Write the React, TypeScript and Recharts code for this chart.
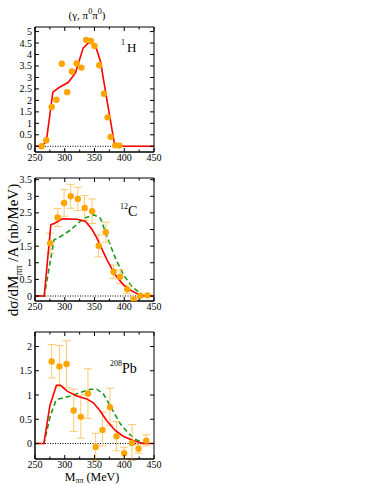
import {
  ComposedChart,
  Line,
  Scatter,
  ErrorBar,
  XAxis,
  YAxis,
  ReferenceLine,
  ReferenceArea,
} from "recharts";

const FONT = "'Liberation Serif', 'DejaVu Serif', serif";

// 1H panel
const hMass = [261, 269, 278, 286, 295, 304, 312, 320, 328, 336, 344, 350, 358, 366, 372, 377, 385, 392];
const hValue = [0, 0.26, 1.71, 2.03, 3.6, 2.36, 3.26, 3.61, 3.43, 4.64, 4.59, 4.37, 3.53, 2.29, 1.26, 0.41, 0.04, 0.03];
const hCurveMass = [250, 261, 269, 280, 290, 298, 306, 318, 331, 340, 351, 360, 371, 384, 400, 450];
const hCurveValue = [0, 0, 0.2, 2.36, 2.55, 2.67, 2.79, 3.2, 4.29, 4.51, 4.43, 3.71, 2.0, 0.04, 0, 0];

// 12C panel
const cMass = [275.5, 288, 299, 310, 322, 333.5, 346, 357, 369, 382, 393, 405, 416, 427, 439];
const cValue = [1.59, 2.36, 2.8, 3.0, 2.92, 2.65, 2.55, 1.51, 1.92, 0.73, 0.58, 0.2, -0.1, 0.01, 0.02];
const cErrLow = [0.3, 0.27, 0.4, 0.36, 0.35, 0.37, 0.37, 0.33, 0.3, 0.2, 0.2, 0.13, 0.06, 0.02, 0.02];
const cErrHigh = [0.3, 0.27, 0.4, 0.36, 0.35, 0.37, 0.37, 0.33, 0.3, 0.2, 0.2, 0.13, 0.06, 0.02, 0.02];
const cRedMass = [250, 265.5, 276.6, 283, 296, 321, 335, 346, 354, 371, 385, 399, 413, 424, 426, 450];
const cRedValue = [0, 0, 2.14, 2.19, 2.32, 2.31, 2.24, 2.0, 1.74, 1.09, 0.63, 0.33, 0.15, 0.05, 0, 0];
const cGreenMass = [250, 265.5, 282, 293, 310, 332, 349, 360, 371, 385, 399, 413, 427, 434];
const cGreenValue = [0, 0, 1.69, 1.79, 1.99, 2.34, 2.44, 2.34, 1.79, 1.14, 0.63, 0.28, 0.08, 0];

// 208Pb panel
const pbMass = [278, 291, 303, 315, 327, 339, 352, 363.5, 376, 387, 400, 413, 424, 437];
const pbValue = [1.69, 1.59, 1.64, 0.68, 0.55, 1.03, -0.07, 0.28, 0.75, 0.15, -0.2, 0.01, -0.11, 0.06];
const pbErrLow = [0.34, 0.42, 0.49, 0.43, 0.44, 0.51, 0.28, 0.33, 0.37, 0.3, 0.12, 0.36, 0.09, 0.11];
const pbErrHigh = [0.35, 0.43, 0.48, 0.44, 0.45, 0.51, 0.28, 0.37, 0.39, 0.3, 0.12, 0.38, 0.09, 0.12];
const pbRedMass = [250, 265, 275, 286, 293, 304, 320, 337, 348, 359, 370, 384, 398, 415, 432, 450];
const pbRedValue = [0, 0, 0.78, 1.2, 1.2, 1.08, 0.98, 0.92, 0.84, 0.68, 0.48, 0.28, 0.15, 0.06, 0, 0];
const pbGreenMass = [250, 265, 276, 285, 290, 310, 326, 343, 354, 365, 379, 393, 407, 420, 434];
const pbGreenValue = [0, 0, 0.58, 0.88, 0.92, 0.98, 1.05, 1.12, 1.12, 1.02, 0.72, 0.41, 0.21, 0.08, 0];

const xTicks = [250, 275, 300, 325, 350, 375, 400, 425, 450];
const yTicksH = [0, 0.5, 1, 1.5, 2, 2.5, 3, 3.5, 4, 4.5, 5];
const yTicksC = [0, 0.5, 1, 1.5, 2, 2.5, 3, 3.5];
const yTicksPb = [0, 0.5, 1, 1.5, 2];

const points = (xs: number[], ys: number[], lo?: number[], hi?: number[]) =>
  xs.map((x, i) => ({ x, y: ys[i], err: lo && hi ? [lo[i], hi[i]] : undefined }));

const isMajor = (v: number, step: number) => Math.abs(v / step - Math.round(v / step)) < 1e-6;

const BottomTick = (props: any) => {
  const { x, y, payload } = props;
  const major = isMajor(payload.value, 50);
  return (
    <g>
      <line x1={x} x2={x} y1={y} y2={y - (major ? 4 : 2.5)} stroke="#000" />
      <line x1={x} x2={x} y1={y - props.plotH} y2={y - props.plotH + (major ? 4 : 2.5)} stroke="#000" />
      {major && (
        <text x={x} y={y + 8.5} textAnchor="middle" fontSize={10} fontFamily={FONT} fill="#000">
          {payload.value}
        </text>
      )}
    </g>
  );
};

const LeftTick = (props: any) => {
  const { x, y, payload } = props;
  const major = isMajor(payload.value, 0.5);
  return (
    <g>
      <line x1={x} x2={x + 4} y1={y} y2={y} stroke="#000" />
      <line x1={x + props.plotW} x2={x + props.plotW - 4} y1={y} y2={y} stroke="#000" />
      {major && (
        <text x={x - 3} y={y + 3.5} textAnchor="end" fontSize={10} fontFamily={FONT} fill="#000">
          {payload.value}
        </text>
      )}
    </g>
  );
};

const Dot = (props: any) => {
  const { cx, cy } = props;
  if (cx == null || cy == null) return <g />;
  return <circle cx={cx} cy={cy} r={3.2} fill="#ffa500" />;
};

type PanelProps = {
  top: number;
  plotHeight: number;
  domain: [number, number];
  yTicks: number[];
  data: { x: number; y: number; err?: number[] }[];
  red: { x: number; y: number }[];
  green?: { x: number; y: number }[];
  withErrors: boolean;
};

const PLOT_W = 119;

function Panel({ top, plotHeight, domain, yTicks, data, red, green, withErrors }: PanelProps) {
  const mTop = 8;
  const xAxisH = 16;
  return (
    <div style={{ position: "absolute", left: 0, top: top - mTop }}>
      <ComposedChart
        width={35 + PLOT_W + 16}
        height={plotHeight + xAxisH + mTop}
        margin={{ top: mTop, right: 16, left: 0, bottom: 0 }}
      >
        <XAxis
          dataKey="x"
          type="number"
          domain={[250, 450]}
          ticks={xTicks}
          interval={0}
          allowDataOverflow
          height={xAxisH}
          tickSize={0}
          tickMargin={0}
          tick={<BottomTick plotH={plotHeight} />}
          stroke="#000"
        />
        <YAxis
          type="number"
          domain={domain}
          ticks={yTicks}
          interval={0}
          allowDataOverflow
          width={35}
          tickSize={0}
          tickMargin={0}
          tick={<LeftTick plotW={PLOT_W} />}
          stroke="#000"
        />
        <ReferenceArea
          x1={250}
          x2={450}
          y1={domain[0]}
          y2={domain[1]}
          fill="none"
          stroke="#000"
          strokeWidth={1}
          fillOpacity={0}
        />
        <ReferenceLine y={0} stroke="#000" strokeDasharray="1 1.5" strokeWidth={1} />
        {green && (
          <Line
            data={green}
            dataKey="y"
            type="linear"
            stroke="#1e9a1e"
            strokeWidth={1.6}
            strokeDasharray="5 3"
            dot={false}
            isAnimationActive={false}
          />
        )}
        <Scatter data={data} dataKey="y" shape={<Dot />} isAnimationActive={false}>
          {withErrors && (
            <ErrorBar
              dataKey="err"
              direction="y"
              width={4}
              stroke="#ffc870"
              strokeWidth={1}
              isAnimationActive={false}
            />
          )}
        </Scatter>
        <Line
          data={red}
          dataKey="y"
          type="linear"
          stroke="#ff0000"
          strokeWidth={1.6}
          dot={false}
          isAnimationActive={false}
        />
      </ComposedChart>
    </div>
  );
}

export default function App() {
  return (
    <div
      style={{
        position: "absolute",
        left: 0,
        top: 0,
        width: 374,
        height: 485,
        background: "#fff",
        fontFamily: FONT,
      }}
    >
      <Panel
        top={27}
        plotHeight={125}
        domain={[-0.25, 5.2]}
        yTicks={yTicksH}
        data={points(hMass, hValue)}
        red={points(hCurveMass, hCurveValue)}
        withErrors={false}
      />
      <Panel
        top={178}
        plotHeight={123}
        domain={[-0.15, 3.55]}
        yTicks={yTicksC}
        data={points(cMass, cValue, cErrLow, cErrHigh)}
        red={points(cRedMass, cRedValue)}
        green={points(cGreenMass, cGreenValue)}
        withErrors
      />
      <Panel
        top={332}
        plotHeight={127}
        domain={[-0.32, 2.3]}
        yTicks={yTicksPb}
        data={points(pbMass, pbValue, pbErrLow, pbErrHigh)}
        red={points(pbRedMass, pbRedValue)}
        green={points(pbGreenMass, pbGreenValue)}
        withErrors
      />
      <svg
        width={374}
        height={485}
        style={{ position: "absolute", left: 0, top: 0, pointerEvents: "none" }}
        fontFamily={FONT}
      >
        <text x={87} y={19} textAnchor="middle" fontSize={11}>
          (γ, π<tspan dy={-5} fontSize={8}>0</tspan>
          <tspan dy={5}>π</tspan>
          <tspan dy={-5} fontSize={8}>0</tspan>
          <tspan dy={5}>)</tspan>
        </text>
        <text x={121} y={52} fontSize={13}>
          <tspan dy={-7} fontSize={8}>1</tspan>
          <tspan dx={2} dy={7}>H</tspan>
        </text>
        <text x={120} y={216} fontSize={14}>
          <tspan dy={-7} fontSize={8}>12</tspan>
          <tspan dy={7}>C</tspan>
        </text>
        <text x={110} y={373} fontSize={14}>
          <tspan dy={-7} fontSize={8}>208</tspan>
          <tspan dy={7}>Pb</tspan>
        </text>
        <text transform="translate(18,250) rotate(-90)" textAnchor="middle" fontSize={15}>
          dσ/dM<tspan dy={4} fontSize={10}>ππ</tspan>
          <tspan dy={-4}> /A (nb/MeV)</tspan>
        </text>
        <text x={92} y={480.5} textAnchor="middle" fontSize={12}>
          M<tspan dy={2.5} fontSize={8}>ππ</tspan>
          <tspan dy={-2.5}> (MeV)</tspan>
        </text>
      </svg>
    </div>
  );
}
